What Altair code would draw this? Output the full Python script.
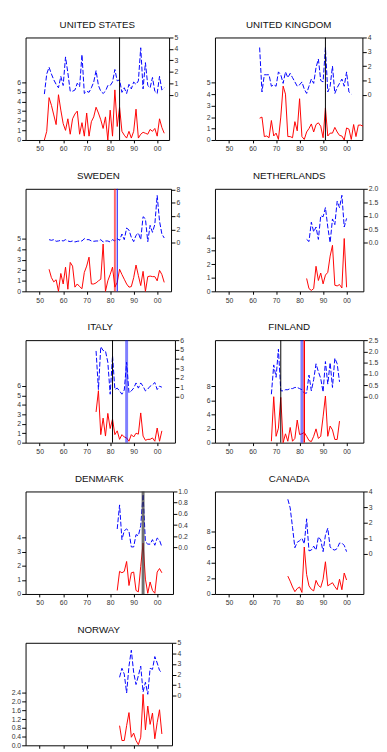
import altair as alt
import pandas as pd

# ---------------- data ----------------
X_TICKS = [1950, 1960, 1970, 1980, 1990, 2000]

US_YEARS = list(range(1952, 2004))
US_RED = [0, 0.9, 4.4, 3.6, 2.6, 1.6, 4.7, 3.1, 1.7, 1.0, 2.2, 0.6, 2.2, 2.7, 3.0, 0.6, 1.8, 0.4,
          2.8, 0.4, 1.9, 2.4, 3.4, 2.8, 2.1, 1.2, 2.4, 0, 3.1, 0.4, 5.2, 1.4, 3.4, 0.9, 0.5, 0.2,
          0.9, 0.2, 0.9, 3.2, 0.2, 0.6, 0.8, 0.7, 0.6, 1.1, 0.9, 1.2, 0.4, 2.2, 1.3, 0.7]
US_BLUE = [0.05, 1.8, 2.4, 1.8, 1.3, 0.9, 0.6, 1.6, 0.8, 3.3, 1.9, 0.3, 0.3, 0.4, 1.0, 0.7, 3.5, 0.1,
           0.3, 0.2, 0.6, 1.1, 2.1, 0.8, 0.3, 0.1, 0.3, 0.8, 0.8, 1.1, 2.2, 1.2, 1.3, 0.2, 0.6, 0.1,
           0.9, 0.5, 1.1, 0.9, 1.2, 4.1, 0.5, 2.8, 0.8, 0.6, 1.5, 0.3, 0.1, 1.6, 0.4, 0.6]
US_LEFT_TICKS = [0, 1, 2, 3, 4, 5, 6]
US_RIGHT_TICKS = [0, 1, 2, 3, 4, 5]
US_EVENTS = [1984]

UK_RED_YEARS = list(range(1963, 2008))
UK_RED = [1.9, 2.0, 0.3, 0.35, 0.2, 1.7, 0.35, 0.6, 0.05, 2.0, 4.7, 4.0, 0.3, 0.3, 0.2, 1.6, 0.8,
          3.6, 0.3, 0.05, 0.7, 1.0, 1.4, 0.7, 1.35, 1.5, 1.2, 0.2, 2.8, 0.35, 0.6, 0.6, 1.1, 0.7,
          0.4, 0.35, 0, 1.05, 0.95, 0.05, 1.35, 0.3, 1.3, 1.3, 1.2]
UK_BLUE_YEARS = list(range(1963, 2003))
UK_BLUE = [3.3, 0.2, 1.4, 1.4, 1.4, 0.6, 0.7, 0.6, 1.6, 1.4, 0.8, 1.6, 1.2, 1.5, 1.2, 0.9, 0.6,
           0.7, 0.9, 0.4, 0.1, 0.6, 1.1, 0.8, 1.9, 2.5, 1.0, 0.9, 3.3, 0.2, 0.6, 2.0, 0.1, 0.5,
           0.8, 1.1, 0.6, 1.6, 0.2, 0.05]
UK_LEFT_TICKS = [0, 1, 2, 3, 4, 5]
UK_RIGHT_TICKS = [0, 1, 2, 3, 4]
UK_EVENTS = [1991]

SE_YEARS = list(range(1954, 2004))
SE_RED = [2.1, 1.3, 0.9, 1.1, 0, 1.7, 0.7, 2.3, 0.2, 2.75, 2.4, 0.4, 0.7, 0.45, 0.25, 1.8, 2.4,
          3.25, 0.7, 0.7, 0.8, 1.0, 1.15, 4.5, 0, 1.0, 1.6, 2.3, 0.4, 0.85, 2.1, 1.6, 1.15, 0.7,
          0.4, 0.45, 1.3, 2.5, 1.5, 0.55, 1.9, 0, 1.4, 1.45, 1.4, 1.4, 1.0, 2.0, 1.6, 0.85]
SE_BLUE = [0.45, 0.35, 0.45, 0.2, 0.25, 0.35, 0.25, 0.45, 0.25, 0.15, 0.25, 0.1, 0.2, 0.25, 0.25,
           0.6, 0.45, 0.45, 0.25, 0.2, 0.25, 0.25, 0.45, 0.1, 0.25, 0.25, 0.1, 0.45, 0.25, 0.6,
           0.35, 1.3, 0.45, 2.2, 1.9, 0.8, 0.15, 1.1, 1.45, 0.45, 3.9, 3.6, 0.15, 2.6, 1.55,
           2.75, 7.1, 3.25, 1.3, 0.7]
SE_LEFT_TICKS = [0, 1, 2, 3, 4, 5]
SE_RIGHT_TICKS = [0, 2, 4, 6, 8]
SE_EVENTS_RED = [1982]
SE_EVENTS_BLUE = [1983]

NL_YEARS = list(range(1983, 2001))
NL_RED = [0.95, 0.2, 0.07, 0.2, 1.85, 0.8, 1.35, 0.55, 1.2, 1.4, 2.6, 3.4, 0.45, 0.4, 0.5, 0.25,
          3.9, 0.3]
NL_BLUE = [0.12, 0.04, 0.76, 0.4, 0.58, 0.12, 1.0, 0.96, 1.3, 0.58, 0.0, 0.88, 0.67, 1.54, 1.3,
           1.76, 0.58, 0.9]
NL_LEFT_TICKS = [0, 1, 2, 3, 4]
NL_RIGHT_TICKS = [0.0, 0.5, 1.0, 1.5, 2.0]

IT_YEARS = list(range(1974, 2003))
IT_RED = [3.25, 5.5, 0.85, 2.6, 0.7, 3.1, 1.5, 2.5, 0.85, 1.25, 0.35, 0.85, 0.6, 0.5, 0.15, 0.85,
          0.6, 1.0, 0.9, 3.15, 0.7, 0.25, 0.35, 0.35, 0.5, 0.15, 1.55, 0.15, 1.25]
IT_BLUE = [4.85, 0.75, 5.3, 4.9, 4.85, 3.65, 0.25, 4.35, 0.75, 0.9, 0.6, 0.25, 0.7, 3.65, 0.4,
           0.6, 0.9, 1.45, 0.9, 1.45, 1.1, 0.6, 0.8, 1.1, 1.25, 1.5, 0.75, 1.1, 1.0]
IT_LEFT_TICKS = [0, 1, 2, 3, 4, 5, 6]
IT_RIGHT_TICKS = [0, 1, 2, 3, 4, 5, 6]
IT_EVENTS_BLACK = [1981]
IT_EVENTS_BLUE = [1987]

FI_YEARS = list(range(1968, 1998))
FI_RED = [0.2, 6.5, 0.9, 2.05, 6.4, 0, 1.25, 0.2, 2.15, 0.2, 0.6, 3.2, 1.15, 1.25, 1.45, 0.9,
          0.3, 0.15, 0.9, 1.95, 0.6, 0.9, 3.65, 6.6, 0.9, 2.35, 1.8, 0.45, 0.45, 3.05]
FI_BLUE = [0.1, 1.4, 0.85, 2.1, 0.25, 0.25, 0.3, 0.3, 0.35, 0.35, 0.4, 0.4, 0.35, 0.3, 0.15,
           0.15, 0.95, 0.25, 0.75, 1.45, 1.1, 0.8, 0.2, 1.55, 0.55, 1.5, 0.4, 1.7, 1.45, 0.65]
FI_LEFT_TICKS = [0, 2, 4, 6, 8]
FI_RIGHT_TICKS = [0.0, 0.5, 1.0, 1.5, 2.0, 2.5]
FI_EVENTS_BLACK = [1972]
FI_EVENTS_BLUE = [1981]
FI_EVENTS_RED = [1982]

DK_YEARS = list(range(1983, 2003))
DK_RED = [0.25, 1.6, 1.5, 1.6, 2.3, 0.6, 1.5, 1.55, 0.25, 0.15, 1.95, 3.6, 1.05, 0.05, 0.85,
          0.25, 0.05, 1.55, 1.8, 1.5]
DK_BLUE = [0.33, 0.76, 0.14, 0.3, 0.33, 0.29, 0.01, 0.01, 0.23, 0.21, 0.39, 0.95, 0.1, 0.06,
           0.06, 0.14, 0.04, 0.17, 0.13, 0.01]
DK_LEFT_TICKS = [0, 1, 2, 3, 4]
DK_RIGHT_TICKS = [0.0, 0.2, 0.4, 0.6, 0.8, 1.0]
DK_EVENTS = [1994]

CA_YEARS = list(range(1975, 2001))
CA_RED = [2.3, 1.65, 0.9, 0.3, 0.7, 0.9, 0.2, 6.05, 2.5, 1.05, 0.6, 0.4, 1.75, 1.1, 0.85, 1.9,
          4.15, 1.05, 1.25, 1.45, 0.95, 0.55, 1.9, 0.55, 2.7, 1.8]
CA_BLUE = [3.5, 2.95, 1.7, 0.4, 0.75, 0.85, 1.0, 0.65, 2.25, 0.2, 0.25, 0.5, 0.25, 1.1, 0.9,
           0.15, 1.2, 1.65, 0.45, 0.3, 0.25, 0.35, 0.7, 0.7, 0.55, 0.15]
CA_LEFT_TICKS = [0, 2, 4, 6, 8]
CA_RIGHT_TICKS = [0, 1, 2, 3, 4]

NO_YEARS = list(range(1984, 2003))
NO_RED = [0.9, 0.22, 0.22, 0.9, 1.5, 0.37, 0.56, 0.22, 0.03, 0.37, 2.34, 0.71, 1.8, 0.96, 1.48,
          0.3, 1.04, 1.63, 0.52]
NO_BLUE = [1.75, 2.6, 2.05, 0.27, 2.8, 4.3, 2.2, 1.07, 1.9, 2.8, 0.37, 1.28, 0.15, 2.6, 2.5,
           3.7, 3.1, 2.4, 2.2]
NO_LEFT_TICKS = [0.0, 0.4, 0.8, 1.2, 1.6, 2.0, 2.4]
NO_RIGHT_TICKS = [0, 1, 2, 3, 4, 5]

# ---------------- layout / style ----------------
FONT = "Liberation Sans"
PX_PER_YEAR = 2.407
X0 = 1944
H = 105
RED = "#ff0000"
BLUE = "#0000ff"


def panel(title, ry, rv, by, bv, lt, lfmt, lmax, rt, rfmt, rmin, rmax, width, rules):
    xmax = X0 + width / PX_PER_YEAR
    xenc = alt.X("year:Q",
                 scale=alt.Scale(domain=[X0, xmax], nice=False, zero=False),
                 axis=alt.Axis(values=X_TICKS, labelExpr="substring(toString(datum.value), 2, 4)",
                               tickSize=3, labelPadding=2, labelFlush=False),
                 title=None)
    red = alt.Chart(pd.DataFrame({"year": ry, "v": rv})).mark_line(
        color=RED, strokeWidth=1).encode(
        x=xenc,
        y=alt.Y("v:Q", scale=alt.Scale(domain=[0, lmax], nice=False, zero=False),
                axis=alt.Axis(orient="left", values=lt, format=lfmt, tickSize=4, labelPadding=1,
                              labelFlush=False),
                title=None))
    blue = alt.Chart(pd.DataFrame({"year": by, "v": bv})).mark_line(
        color=BLUE, strokeWidth=1, strokeDash=[5, 2]).encode(
        x=xenc,
        y=alt.Y("v:Q", scale=alt.Scale(domain=[rmin, rmax], nice=False, zero=False),
                axis=alt.Axis(orient="right", values=rt, format=rfmt, tickSize=4, labelPadding=1,
                              labelFlush=False),
                title=None))
    layers = [red, blue]
    for yrs, col, w, op in rules:
        layers.append(alt.Chart(pd.DataFrame({"year": yrs})).mark_rule(
            color=col, strokeWidth=w, opacity=op).encode(x=xenc))
    head = alt.Chart(pd.DataFrame({"t": [title]})).mark_text(
        font=FONT, fontSize=10, color="#111111", align="center", baseline="alphabetic"
    ).encode(text="t:N", x=alt.value(width / 2), y=alt.value(-10))
    layers.append(head)
    return alt.layer(*layers).resolve_scale(y="independent").properties(width=width, height=H)


panels = [
    panel("UNITED STATES", US_YEARS, US_RED, US_YEARS, US_BLUE, US_LEFT_TICKS, "d", 10.64,
          US_RIGHT_TICKS, "d", -3.97, 5.0, 147, [(US_EVENTS, "#000000", 1, 1)]),
    panel("UNITED KINGDOM", UK_RED_YEARS, UK_RED, UK_BLUE_YEARS, UK_BLUE, UK_LEFT_TICKS, "d", 8.94,
          UK_RIGHT_TICKS, "d", -3.15, 4.0, 151, [(UK_EVENTS, "#000000", 1, 1)]),
    panel("SWEDEN", SE_YEARS, SE_RED, SE_YEARS, SE_BLUE, SE_LEFT_TICKS, "d", 9.75,
          SE_RIGHT_TICKS, "d", -7.33, 8.1, 149,
          [(SE_EVENTS_RED, RED, 2, 0.6), (SE_EVENTS_BLUE, BLUE, 1, 1)]),
    panel("NETHERLANDS", NL_YEARS, NL_RED, NL_YEARS, NL_BLUE, NL_LEFT_TICKS, "d", 7.57,
          NL_RIGHT_TICKS, ".1f", -1.81, 2.0, 152, []),
    panel("ITALY", IT_YEARS, IT_RED, IT_YEARS, IT_BLUE, IT_LEFT_TICKS, "d", 10.86,
          IT_RIGHT_TICKS, "d", -4.9, 6.0, 153,
          [(IT_EVENTS_BLACK, "#000000", 1, 1), (IT_EVENTS_BLUE, BLUE, 3, 0.5)]),
    panel("FINLAND", FI_YEARS, FI_RED, FI_YEARS, FI_BLUE, FI_LEFT_TICKS, "d", 14.5,
          FI_RIGHT_TICKS, ".1f", -2.05, 2.5, 152,
          [(FI_EVENTS_BLACK, "#000000", 1, 1), (FI_EVENTS_BLUE, BLUE, 3, 0.5),
           (FI_EVENTS_RED, RED, 1.5, 1)]),
    panel("DENMARK", DK_YEARS, DK_RED, DK_YEARS, DK_BLUE, DK_LEFT_TICKS, "d", 7.25,
          DK_RIGHT_TICKS, ".1f", -0.83, 1.0, 151, [(DK_EVENTS, "#333333", 3, 0.7)]),
    panel("CANADA", CA_YEARS, CA_RED, CA_YEARS, CA_BLUE, CA_LEFT_TICKS, "d", 13.2,
          CA_RIGHT_TICKS, "d", -2.56, 4.0, 152, []),
    panel("NORWAY", NO_YEARS, NO_RED, NO_YEARS, NO_BLUE, NO_LEFT_TICKS, ".1f", 4.7,
          NO_RIGHT_TICKS, "d", -4.66, 5.0, 150, []),
]

chart = alt.concat(*panels, columns=2, spacing={"row": 50, "column": 41},
                   bounds="flush").configure_view(
    stroke="#000000", strokeWidth=1
).configure_axis(
    labelFont=FONT, labelFontSize=7, labelColor="#333333", tickColor="#000000",
    domain=False, grid=False
).properties(
    padding={"left": 2, "top": 2, "right": 0, "bottom": 0},
    background="#ffffff"
)

chart.save("out.html", embed_options={"renderer": "svg", "actions": False})
